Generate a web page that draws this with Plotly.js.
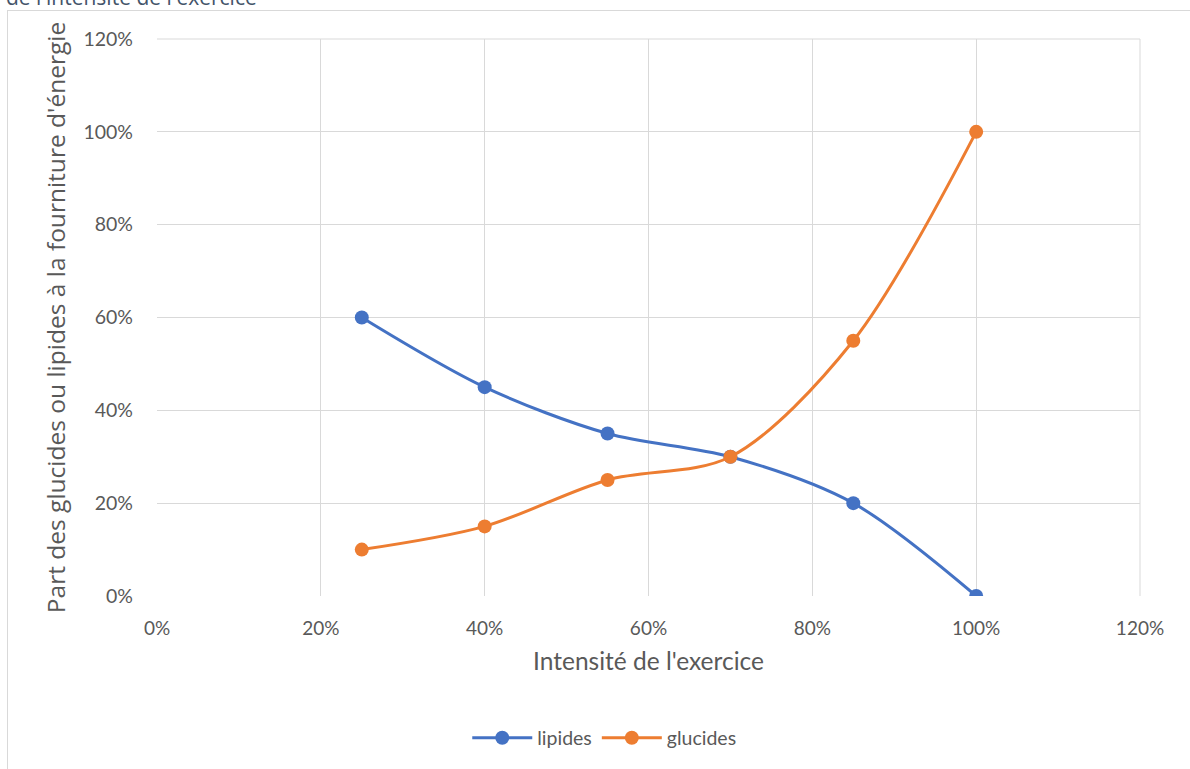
<!DOCTYPE html>
<html><head><meta charset="utf-8">
<script src="https://cdn.plot.ly/plotly-3.0.1.min.js"></script>
<style>
html,body{margin:0;padding:0;background:#fff;overflow:hidden;width:1190px;height:769px;}
#frame{position:absolute;left:7px;top:10px;width:1200px;height:800px;border:1px solid #d9d9d9;box-sizing:border-box;}
#cut{position:absolute;left:6px;top:-17px;font-family:'Open Sans',sans-serif;font-size:21px;color:#44546a;white-space:nowrap;}
#chart{position:absolute;left:0;top:0;width:1190px;height:769px;}
</style></head>
<body>
<div id="frame"></div>
<div id="cut">de l'intensité de l'exercice</div>
<div id="chart"></div>
<script>
const intensite = [0.25, 0.40, 0.55, 0.70, 0.85, 1.00];
const lipides = [0.60, 0.45, 0.35, 0.30, 0.20, 0.00];
const glucides = [0.10, 0.15, 0.25, 0.30, 0.55, 1.00];
const tickVals = [0, 0.2, 0.4, 0.6, 0.8, 1.0, 1.2];
const tickText = ['0%','20%','40%','60%','80%','100%','120%'];

const lato = "Lato, 'Open Sans', sans-serif";
const col = '#595959';
const traces = [
 {x:intensite, y:lipides, name:'lipides', mode:'lines+markers', line:{color:'#4472C4', width:3, shape:'spline', smoothing:0.9}, marker:{size:14, color:'#4472C4'}},
 {x:intensite, y:glucides, name:'glucides', mode:'lines+markers', line:{color:'#ED7D31', width:3, shape:'spline', smoothing:0.9}, marker:{size:14, color:'#ED7D31'}}
];
const layout = {
 width:1190, height:769,
 paper_bgcolor:'rgba(0,0,0,0)', plot_bgcolor:'rgba(0,0,0,0)',
 margin:{l:157, r:50, t:39, b:173},
 font:{family:lato, color:col, size:18},
 showlegend:true,
 legend:{orientation:'h', x:0.455, xanchor:'center', y:-0.255, yanchor:'middle', font:{family:lato, color:col, size:19.5}, itemwidth:60},
 xaxis:{range:[0,1.2], tickvals:tickVals, ticktext:tickText, showgrid:true, gridcolor:'#d9d9d9', gridwidth:1, zeroline:false, showline:false, ticks:'', tickfont:{family:lato, color:col, size:19}, ticklabelstandoff:19,
   title:{text:"Intensité de l'exercice", font:{family:lato, color:col, size:24.5}, standoff:14}},
 yaxis:{range:[0,1.2], tickvals:tickVals, ticktext:tickText, showgrid:true, gridcolor:'#d9d9d9', gridwidth:1, zeroline:false, showline:false, ticks:'', tickfont:{family:lato, color:col, size:19.5}, ticklabelstandoff:23,
   title:{text:"Part des glucides ou lipides à la fourniture d'énergie", font:{family:"'Open Sans', sans-serif", color:col, size:24.5}, standoff:10}},
 shapes:[{type:'line', xref:'paper', yref:'paper', x0:1, x1:1, y0:0, y1:1, line:{color:'#d9d9d9', width:1}},
         {type:'line', xref:'paper', yref:'paper', x0:0, x1:1, y0:1, y1:1, line:{color:'#d9d9d9', width:1}}]
};
Plotly.newPlot('chart', traces, layout, {displayModeBar:false, staticPlot:true});
</script>
</body></html>
